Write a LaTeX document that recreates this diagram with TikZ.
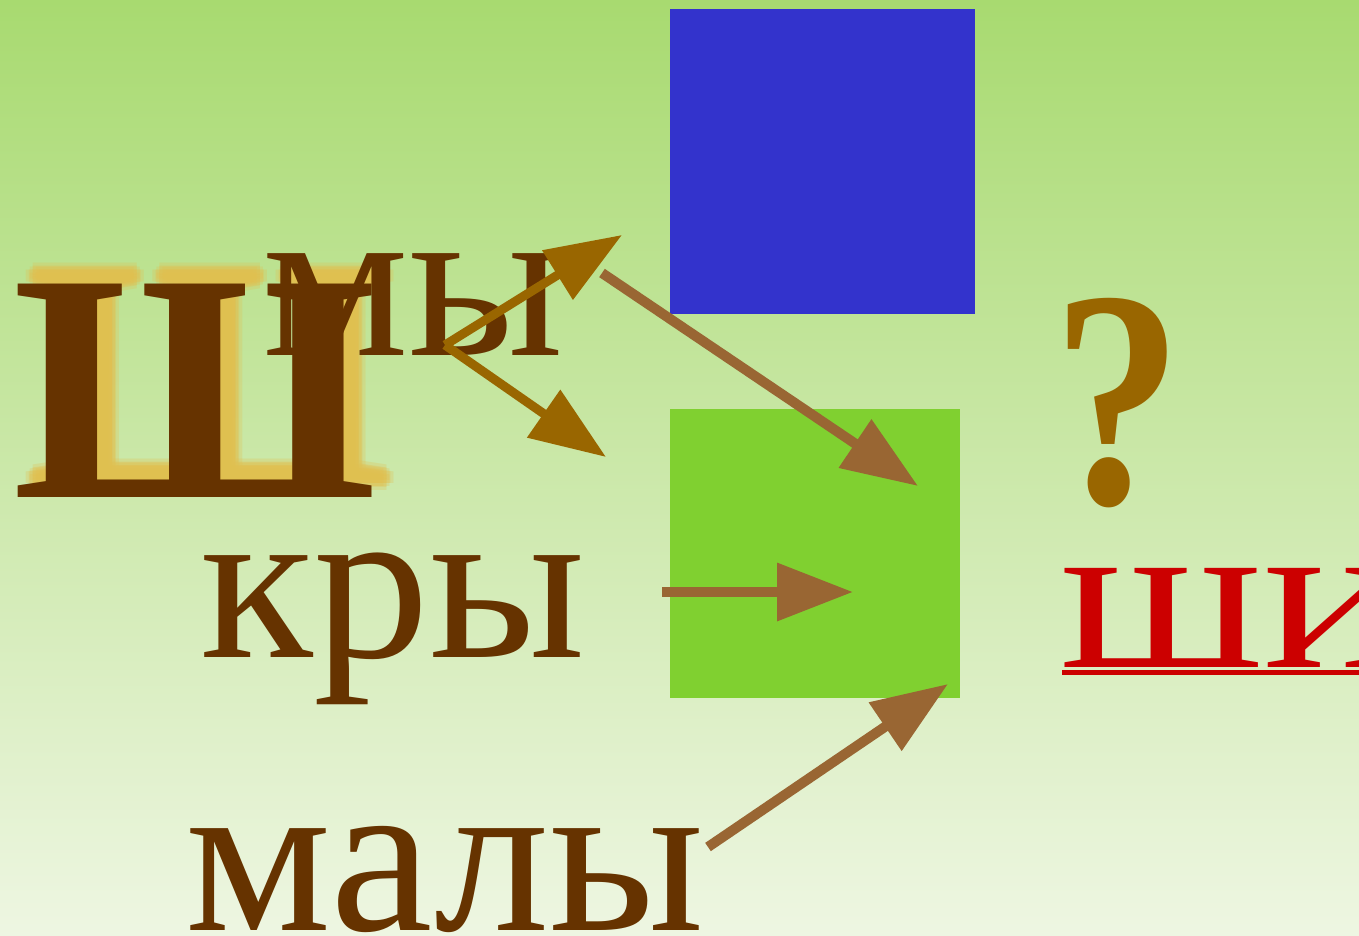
\documentclass[tikz,border=0pt]{standalone}
\usepackage{fontspec}
\setmainfont{Liberation Serif}
\usetikzlibrary{arrows.meta}
\definecolor{bgtop}{HTML}{A8DA70}
\definecolor{bgbot}{HTML}{EEF6E2}
\definecolor{txt}{HTML}{663300}
\definecolor{glow}{HTML}{E2C050}
\definecolor{qmark}{HTML}{996600}
\definecolor{ared}{HTML}{CC0000}
\definecolor{blueb}{HTML}{3333CC}
\definecolor{greenb}{HTML}{80D030}
\definecolor{arrA}{HTML}{996600}
\definecolor{arrB}{HTML}{996633}
\newcommand{\wideword}[2]{\scalebox{#1}[1]{#2}}
\begin{document}
\begin{tikzpicture}[x=0.5pt,y=-0.5pt,
  word/.style={inner sep=0pt,anchor=base west,text=txt,font=\fontsize{111}{111}\selectfont},
  bigsh/.style={inner sep=0pt,anchor=base west,font=\bfseries\fontsize{163}{163}\selectfont},
  arrowline/.style={line width=5pt,-{Triangle[length=38pt,width=28pt]}},
  box/.style={draw=none,inner sep=0pt,anchor=north west}]
\useasboundingbox (0,0) rectangle (1359,936);
\shade[top color=bgtop,bottom color=bgbot] (0,0) rectangle (1359,936);
% boxes
\node[box,fill=blueb,minimum width=152.5pt,minimum height=152.5pt] (blue) at (670,9) {};
\node[box,fill=greenb,minimum width=145pt,minimum height=144.5pt] (green) at (670,409) {};
% glow of big letter
\foreach \dx/\dy in {0/0,4/0,-4/0,0/4,0/-4,3/3,-3/3,3/-3,-3/-3,7/0,-7/0,0/7,0/-7}{
  \node[bigsh,text=glow,opacity=0.28] at (27+\dx,483+\dy) {\wideword{1.02}{Ш}};
}
\node[bigsh,text=txt] (sh) at (12,497) {\wideword{1.02}{Ш}};
% words
\node[word] (my) at (262,355) {\wideword{1.043}{мы}};
\node[word] (kry) at (200,657) {\wideword{1.047}{кры}};
\node[word] (maly) at (185,930) {\wideword{1.04}{малы}};
% question mark and answer
\node[inner sep=0pt,anchor=base west,text=qmark,font=\bfseries\fontsize{155}{155}\selectfont] (q) at (1052,503) {\wideword{0.84}{?}};
\node[inner sep=0pt,anchor=base west,text=ared,font=\fontsize{108}{108}\selectfont] (shi) at (1060,667) {\wideword{1.22}{ши}};
\coordinate (ulA) at (1062,672);
\coordinate (ulB) at (1359,672);
\draw[ared,line width=2.5pt] (ulA) -- (ulB);
% arrow coordinates
\coordinate (a0) at (445,345);
\coordinate (a1) at (622,235);
\coordinate (a2) at (606,457);
\coordinate (b0) at (602,273);
\coordinate (b1) at (918,486);
\coordinate (c0) at (662,592);
\coordinate (c1) at (853,592);
\coordinate (d0) at (708,847);
\coordinate (d1) at (948,684);
\draw[arrowline,arrA,line width=4.5pt] (a0) -- (a1);
\draw[arrowline,arrA,line width=4.5pt] (a0) -- (a2);
\draw[arrowline,arrB] (b0) -- (b1);
\draw[arrowline,arrB] (c0) -- (c1);
\draw[arrowline,arrB] (d0) -- (d1);
\end{tikzpicture}
\end{document}
